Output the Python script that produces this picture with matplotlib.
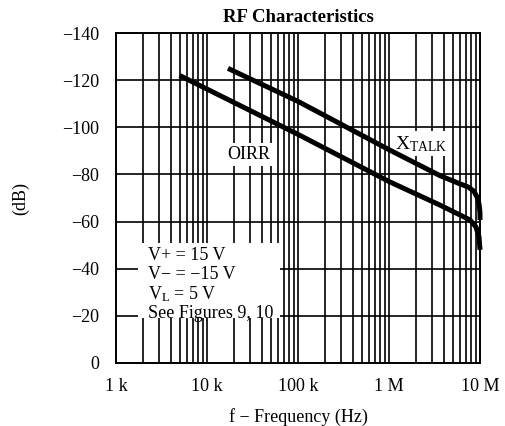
import matplotlib
matplotlib.use("Agg")
import matplotlib.pyplot as plt
from matplotlib.patches import Rectangle
from matplotlib.ticker import LogLocator, FixedLocator, NullFormatter

plt.rcParams['font.family'] = ['Liberation Serif', 'DejaVu Serif']
plt.rcParams['mathtext.fontset'] = 'custom'
plt.rcParams['mathtext.rm'] = 'Liberation Serif'
plt.rcParams['mathtext.it'] = 'Liberation Serif:italic'

#%% data
oirr_f = [5e3, 1e5, 1e6, 3.63e6, 6.03e6, 7.76e6, 9.04e6, 9.75e6, 1e7]
oirr_db = [-122, -97, -77, -67.0, -62.8, -60.7, -57.7, -53.5, -48]

xtalk_f = [1.7e4, 1e5, 1e6, 3.63e6, 6.03e6, 7.5e6, 8.6e6, 9.4e6, 9.8e6, 1e7, 1e7]
xtalk_db = [-125, -111, -90.5, -79.5, -76.0, -74.6, -72.8, -70.0, -67.0, -63.6, -60.7]

x_ticks = [1e3, 1e4, 1e5, 1e6, 1e7]
x_labels = ['1 k', '10 k', '100 k', '1 M', '10 M']
y_ticks = [0, -20, -40, -60, -80, -100, -120, -140]

notes = ['V+ = 15 V', 'V\u2212 = \u221215 V', r'V$_{\mathrm{L}}$ = 5 V', 'See Figures 9, 10']

#%% figure
fig = plt.figure(figsize=(5.06, 4.26), dpi=100)
ax = fig.add_axes([0.2292, 0.1479, 0.7194, 0.7746])

ax.set_xscale('log')
ax.set_xlim(1e3, 1e7)
ax.set_ylim(0, -140)

ax.xaxis.set_major_locator(FixedLocator(x_ticks))
ax.set_xticklabels(x_labels)
ax.xaxis.set_minor_locator(LogLocator(base=10, subs=range(2, 10)))
ax.xaxis.set_minor_formatter(NullFormatter())
ax.set_yticks(y_ticks)
ax.set_yticklabels(['0' if v == 0 else '\u2212%d' % -v for v in y_ticks])

ax.tick_params(which='both', length=0, labelsize=13)
ax.tick_params(axis='x', pad=11)
ax.tick_params(axis='y', pad=12)

ax.set_axisbelow(True)
ax.grid(True, which='both', axis='x', color='black', lw=1.2)
ax.grid(True, which='major', axis='y', color='black', lw=1.2)
for s in ax.spines.values():
    s.set_linewidth(1.4)

ax.plot(oirr_f, oirr_db, color='black', lw=3.6, solid_capstyle='butt',
        solid_joinstyle='round', zorder=3, clip_on=False)
ax.plot(xtalk_f, xtalk_db, color='black', lw=3.6, solid_capstyle='butt',
        solid_joinstyle='round', zorder=3, clip_on=False)

# labels sit on white patches over the grid, curves drawn on top
ax.text(2.9e4, -88.5, 'OIRR', fontsize=13, ha='center', va='center', zorder=2.5,
        bbox=dict(facecolor='white', edgecolor='none', pad=2))
ax.text(2.25e6, -93, r'X$_{\mathrm{TALK}}$', fontsize=14, ha='center', va='center',
        zorder=2.5, bbox=dict(facecolor='white', edgecolor='none', pad=2))

# white block behind the conditions text
ax.add_patch(Rectangle((0.060, 0.136), 0.391, 0.228, transform=ax.transAxes,
                       facecolor='white', edgecolor='none', zorder=2))
for i, line in enumerate(notes):
    ax.text(0.088, 0.325 - i * 0.058, line, transform=ax.transAxes, fontsize=13,
            ha='left', va='center', zorder=4)

ax.set_title('RF Characteristics', fontsize=13.5, fontweight='bold', pad=8)
ax.set_xlabel('f \u2212 Frequency (Hz)', fontsize=13, labelpad=9)
ax.set_ylabel('(dB)', fontsize=13, labelpad=24)

fig.savefig('out.png', dpi=100)
